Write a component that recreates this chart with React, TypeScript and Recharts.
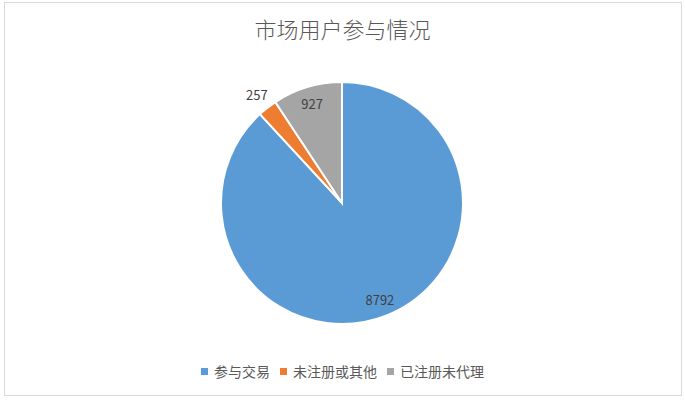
import React from "react";
import { Legend, Pie, PieChart, Cell } from "recharts";

const categories = ["参与交易", "未注册或其他", "已注册未代理"];
const values = [8792, 257, 927];
const colors = ["#5B9BD5", "#ED7D31", "#A5A5A5"];
const title = "市场用户参与情况";

const data = categories.map((name, i) => ({ name, value: values[i] }));
const total = values.reduce((a, b) => a + b, 0);

const FONT = '"Noto Sans CJK SC", "Noto Sans", sans-serif';
const RADIAN = Math.PI / 180;

function renderLabel(props: any) {
  const { cx, cy, midAngle, outerRadius, value } = props;
  // small slices get their label outside, like Excel's best fit
  const share = value / total;
  const r = share < 0.05 ? outerRadius * 1.14 : outerRadius * 0.86;
  const x = cx + r * Math.cos(-midAngle * RADIAN);
  const y = cy + r * Math.sin(-midAngle * RADIAN);
  return (
    <text
      x={x}
      y={y}
      fill="#404040"
      fontSize={13}
      fontFamily={FONT}
      textAnchor="middle"
      dominantBaseline="central"
    >
      {value}
    </text>
  );
}

function LegendContent() {
  return (
    <div
      style={{
        display: "flex",
        justifyContent: "center",
        alignItems: "center",
        fontFamily: FONT,
        fontSize: 14,
        color: "#595959",
        gap: 10,
      }}
    >
      {categories.map((c, i) => (
        <div key={c} style={{ display: "flex", alignItems: "center" }}>
          <span
            style={{
              display: "inline-block",
              width: 7,
              height: 7,
              background: colors[i],
              marginRight: 6,
            }}
          />
          <span>{c}</span>
        </div>
      ))}
    </div>
  );
}

export default function App() {
  return (
    <div
      style={{
        position: "absolute",
        left: 0,
        top: 0,
        width: 685,
        height: 402,
        background: "#fff",
      }}
    >
      <div
        style={{
          position: "absolute",
          left: 4,
          top: 2,
          width: 676,
          height: 392,
          border: "1px solid #d9d9d9",
        }}
      />
      <div
        style={{
          position: "absolute",
          left: 0,
          top: 12,
          width: 685,
          textAlign: "center",
          fontFamily: FONT,
          fontSize: 22,
          color: "#595959",
          fontWeight: 300,
        }}
      >
        {title}
      </div>
      <div style={{ position: "absolute", left: 0, top: 0 }}>
        <PieChart width={685} height={402}>
          <Pie
            data={data}
            dataKey="value"
            nameKey="name"
            cx={337}
            cy={198}
            outerRadius={121}
            startAngle={90}
            endAngle={-270}
            stroke="#fff"
            strokeWidth={2}
            label={renderLabel}
            labelLine={false}
            isAnimationActive={false}
          >
            {data.map((d, i) => (
              <Cell key={d.name} fill={colors[i]} />
            ))}
          </Pie>
          <Legend
            content={<LegendContent />}
            wrapperStyle={{ top: 361, left: 0, width: 685 }}
          />
        </PieChart>
      </div>
    </div>
  );
}
